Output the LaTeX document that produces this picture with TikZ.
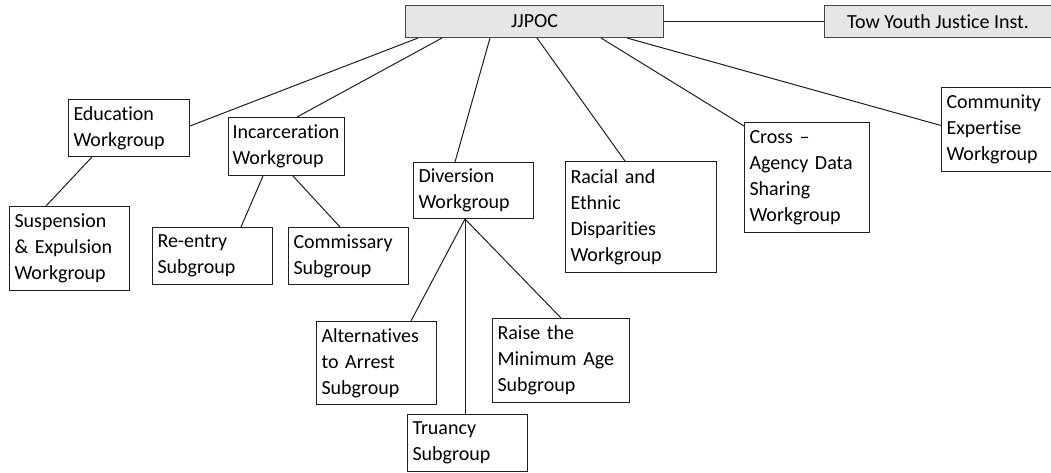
\documentclass[tikz,border=0pt]{standalone}
\usepackage{fontspec}
\setmainfont{Carlito}[Ligatures={TeX,NoCommon}]
\usepackage{tikz}
\usetikzlibrary{positioning}
\definecolor{boxline}{RGB}{30,30,30}
\definecolor{topfill}{RGB}{230,230,230}
\definecolor{topline}{RGB}{70,70,70}
\newcommand{\wgfont}{\fontsize{20}{26}\selectfont}
\tikzset{
  wgbox/.style={rectangle, draw=boxline, fill=white, align=left,
    font=\wgfont, inner xsep=5pt, inner ysep=2pt, anchor=north west,
    line width=1pt},
  topbox/.style={rectangle, draw=topline, fill=topfill, align=center,
    font=\wgfont, minimum height=32pt, inner sep=0pt, line width=1pt},
  link/.style={line width=1pt, color=boxline}
}
\begin{document}
\begin{tikzpicture}[x=1pt, y=-1pt]
  \useasboundingbox (0,0) rectangle (1051,472);
  % Top level
  \node[topbox, anchor=north west, minimum width=258pt] (jjpoc) at (405,5) {JJPOC};
  \node[topbox, right=160pt of jjpoc, minimum width=227pt] (tow) {Tow Youth Justice Inst.};
  % Workgroups
  \node[wgbox, text width=111pt, minimum height=57pt] (edu) at (68,99) {Education\\Workgroup};
  \node[wgbox, text width=108pt, inner xsep=4pt, minimum height=58pt] (incar) at (228,117) {Incarceration\\Workgroup};
  \node[wgbox, text width=110pt, minimum height=56pt] (divers) at (413,162) {Diversion\\Workgroup};
  \node[wgbox, text width=141pt, minimum height=111pt] (racial) at (565,161) {Racial and\\Ethnic\\Disparities\\Workgroup};
  \node[wgbox, text width=115pt, minimum height=110pt] (cross) at (744,122) {Cross \textendash\\Agency Data\\Sharing\\Workgroup};
  \node[wgbox, text width=105pt, minimum height=84pt] (comm) at (941,87) {Community\\Expertise\\Workgroup};
  % Sub groups
  \node[wgbox, text width=110pt, minimum height=84pt] (susp) at (9,206) {Suspension\\\& Expulsion\\Workgroup};
  \node[wgbox, text width=110pt, minimum height=57pt] (reentry) at (152,227) {Re-entry\\Subgroup};
  \node[wgbox, anchor=west, right=15pt of reentry, text width=110pt, minimum height=57pt] (commis) {Commissary\\Subgroup};
  \node[wgbox, text width=110pt, minimum height=83pt] (alt) at (316,321) {Alternatives\\to Arrest\\Subgroup};
  \node[wgbox, text width=127pt, minimum height=84pt] (raise) at (492,318) {Raise the\\Minimum Age\\Subgroup};
  \node[wgbox, text width=110pt, minimum height=57pt] (truancy) at (407,414) {Truancy\\Subgroup};
  % Connections
  \draw[link] (jjpoc.east) -- (tow.west);
  \draw[link] ([xshift=13pt]jjpoc.south west) -- ([yshift=2pt]edu.east);
  \draw[link] ([xshift=37pt]jjpoc.south west) -- ([xshift=69pt]incar.north west);
  \draw[link] ([xshift=85pt]jjpoc.south west) -- ([xshift=42pt]divers.north west);
  \draw[link] ([xshift=132pt]jjpoc.south west) -- ([xshift=60pt]racial.north west);
  \draw[link] ([xshift=196pt]jjpoc.south west) -- ([yshift=-4pt]cross.north west);
  \draw[link] ([xshift=222pt]jjpoc.south west) -- ([yshift=4pt]comm.west);
  \draw[link] ([xshift=24pt]edu.south west) -- ([xshift=37pt]susp.north west);
  \draw[link] ([xshift=35pt]incar.south west) -- ([xshift=89pt]reentry.north west);
  \draw[link] ([xshift=65pt]incar.south west) -- ([xshift=52pt]commis.north west);
  \draw[link] ([xshift=52pt]divers.south west) -- ([xshift=95pt]alt.north west);
  \draw[link] ([xshift=52pt]divers.south west) -- ([xshift=58pt]truancy.north west);
  \draw[link] ([xshift=52pt]divers.south west) -- ([xshift=69pt]raise.north west);
\end{tikzpicture}
\end{document}
